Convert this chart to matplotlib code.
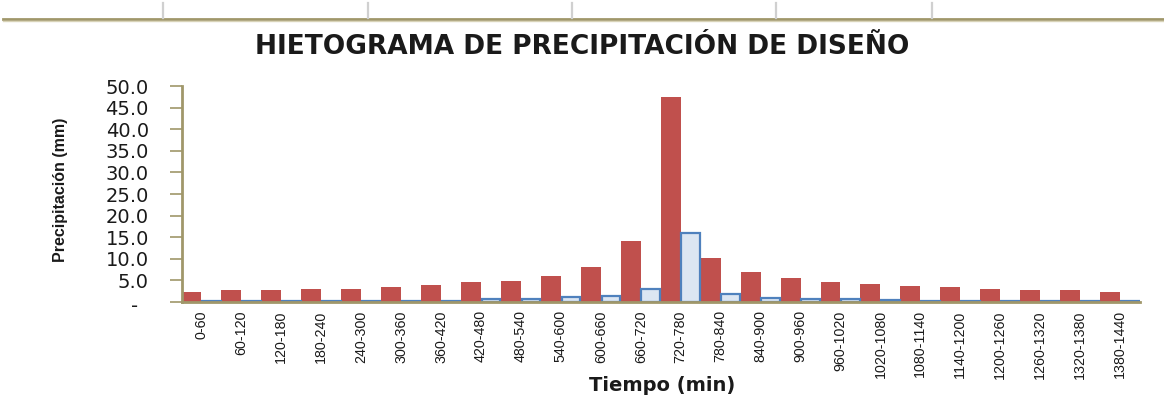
import matplotlib
matplotlib.use("Agg")
import matplotlib.pyplot as plt
from matplotlib.lines import Line2D
from matplotlib.ticker import FixedLocator, FuncFormatter
import matplotlib.transforms as mtransforms
import numpy as np

# ---------------- data ----------------
categories = ["0-60", "60-120", "120-180", "180-240", "240-300", "300-360",
              "360-420", "420-480", "480-540", "540-600", "600-660", "660-720",
              "720-780", "780-840", "840-900", "900-960", "960-1020", "1020-1080",
              "1080-1140", "1140-1200", "1200-1260", "1260-1320", "1320-1380",
              "1380-1440"]
design_precip = [2.3, 2.7, 2.7, 3.1, 3.1, 3.5, 3.9, 4.6, 4.9, 6.1, 8.2, 14.2,
                 47.5, 10.1, 7.0, 5.6, 4.6, 4.1, 3.8, 3.4, 3.1, 2.7, 2.7, 2.3]
second_series = [0.15, 0.15, 0.15, 0.15, 0.15, 0.15, 0.15, 0.6, 0.7, 1.1, 1.5, 3.0,
                 15.9, 1.9, 0.9, 0.6, 0.6, 0.5, 0.15, 0.15, 0.15, 0.15, 0.15, 0.15]
y_ticks = [0, 5, 10, 15, 20, 25, 30, 35, 40, 45, 50]

title = "HIETOGRAMA DE PRECIPITACIÓN DE DISEÑO"
xlabel = "Tiempo (min)"
ylabel = "Precipitación (mm)"

# ---------------- style ----------------
RED = "#C0504D"
BLUE_EDGE = "#4F81BD"
BLUE_FILL = "#DCE6F2"
OLIVE = "#A0976A"
TEXT = "#1A1A1A"
FONT = "DejaVu Sans"
FONT_ROT = "Liberation Sans"

W, H = 1164, 419
fig = plt.figure(figsize=(W / 100, H / 100), dpi=100)
fig.patch.set_facecolor("white")

# decorative spreadsheet header line
fig.add_artist(Line2D([3 / W, 1], [1 - 19 / H, 1 - 19 / H], transform=fig.transFigure,
                      color=OLIVE, lw=2.0))
fig.add_artist(Line2D([3 / W, 1], [1 - 21.5 / H, 1 - 21.5 / H], transform=fig.transFigure,
                      color="#D8D3B8", lw=1.0))
for xp in [163, 368, 572, 776, 932]:
    fig.add_artist(Line2D([xp / W, xp / W], [1 - 3 / H, 1 - 18 / H], transform=fig.transFigure,
                          color="#D0D0D0", lw=1.6))

ax = fig.add_axes([181.5 / W, 1 - 302 / H, (1140 - 181.5) / W, (302 - 86) / H])

x = np.arange(len(categories))
bw = 0.5
ax.bar(x - bw / 2, design_precip, width=bw, color=RED, edgecolor="none", zorder=2)
ax.bar(x + bw / 2, second_series, width=bw * 0.93, color=BLUE_FILL, edgecolor=BLUE_EDGE,
       linewidth=1.6, zorder=2)

ax.set_xlim(-0.5, len(categories) - 0.5)
ax.set_ylim(0, 50)

for s in ["top", "right"]:
    ax.spines[s].set_visible(False)
for s in ["left", "bottom"]:
    ax.spines[s].set_color(OLIVE)
    ax.spines[s].set_linewidth(2.0)
    ax.spines[s].set_zorder(3)

ax.yaxis.set_major_locator(FixedLocator(y_ticks))
ax.yaxis.set_major_formatter(FuncFormatter(lambda v, p: "-" if v == 0 else f"{v:.1f}"))
ax.tick_params(axis="y", direction="out", length=8.5, width=1.2, color=OLIVE,
               pad=15, labelsize=14, labelcolor=TEXT)
for lab in ax.get_yticklabels():
    lab.set_fontfamily(FONT)
ax.set_xticks(x)
ax.set_xticklabels(categories, rotation=90, fontsize=10.3, color=TEXT, family=FONT_ROT)
ax.tick_params(axis="x", length=0, pad=6)

# shift the "-" zero label slightly left (accounting format look)
zero_lab = ax.get_yticklabels()[0]
zero_lab.set_transform(zero_lab.get_transform() +
                       mtransforms.ScaledTranslation(-8 / 72, -2 / 72, fig.dpi_scale_trans))

fig.text(582.5 / W, 1 - 47 / H, title, ha="center", va="center", fontsize=19,
         fontweight="bold", color=TEXT, family=FONT)
fig.text(662 / W, 1 - 385 / H, xlabel, ha="center", va="center", fontsize=14,
         fontweight="bold", color=TEXT, family=FONT)
fig.text(60 / W, 1 - 190 / H, ylabel, ha="center", va="center", fontsize=11.5,
         fontweight="bold", rotation=90, color=TEXT, family=FONT_ROT)

fig.savefig("out.png", dpi=100, facecolor="white")
